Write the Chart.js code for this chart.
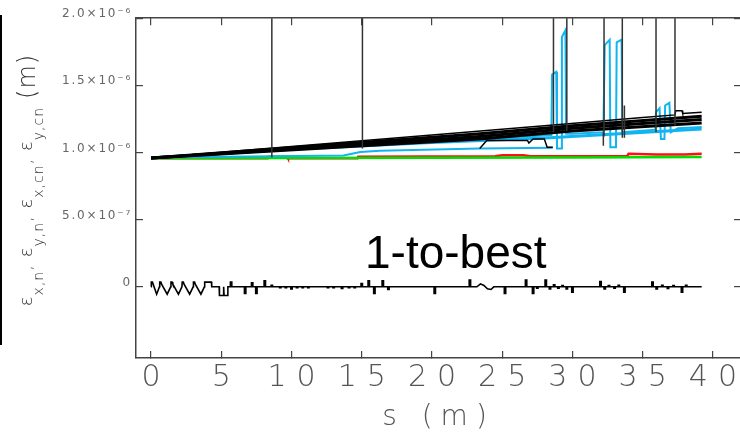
<!DOCTYPE html>
<html>
<head>
<meta charset="utf-8">
<script src="https://cdn.jsdelivr.net/npm/chart.js@4.4.1/dist/chart.umd.min.js"></script>
<style>
  html, body { margin: 0; padding: 0; background: #fff; overflow: hidden; }
  #wrap { position: relative; width: 740px; height: 432px; overflow: hidden; }
  #emitChart { position: absolute; left: 0; top: 0; }
  #edge { position: absolute; left: 0; top: 15px; width: 2px; height: 330px; background: #000; }
  #ytitle {
    position: absolute; left: 29px; top: 180px;
    transform: translate(-50%, -50%) rotate(-90deg);
    white-space: nowrap; color: #333;
    font-family: "DejaVu Sans", sans-serif; font-weight: 200; font-size: 18px;
    letter-spacing: 1px;
  }
  #ytitle sub { font-size: 14px; vertical-align: -11px; }
  #ytitle .unit { font-size: 24px; vertical-align: -3px; margin-left: 8px; }
  #tag {
    position: absolute; left: 365px; top: 229px;
    font-family: "Liberation Sans", Arial, sans-serif; font-size: 46px; line-height: 1;
    color: #000;
  }
</style>
</head>
<body>
<div id="wrap">
  <canvas id="emitChart" width="760" height="432"></canvas>
  <div id="edge"></div>
  <div id="ytitle">ε<sub>x,n</sub>, ε<sub>y,n</sub>, ε<sub>x,cn</sub>, ε<sub>y,cn</sub><span class="unit">(m)</span></div>
  <div id="tag">1-to-best</div>
</div>
<script>
// axis ticks (s in m, emittance in units of 1e-6 m)
const sTicks = [0, 5, 10, 15, 20, 25, 30, 35, 40];
const epsTicks = [0, 0.5, 1.0, 1.5, 2.0];

// eps_y,cn - flat green
const greenS   = [0, 10, 20, 30, 39.2];
const greenEps = [0.958, 0.959, 0.961, 0.963, 0.966];

// eps_x,cn - red
const redS   = [0, 8.3, 8.35, 9.7, 9.75, 14.7, 14.75, 24.5, 25.0, 26.5, 27.0, 33.9, 34.0, 36.0, 38.0, 39.2];
const redEps = [0.958, 0.958, 0.968, 0.968, 0.958, 0.958, 0.969, 0.972, 0.979, 0.979, 0.972, 0.974, 0.99, 0.986, 0.986, 0.991];

// eps_y,n - cyan, with the blow-ups after s = 28 m
const cyanS = [0, 5, 10, 15, 20, 25, 28.5,
  28.55, 28.85, 28.9, 29.2, 29.25, 29.5, 29.55,
  30, 32.2,
  32.3, 32.65, 32.7, 33.1, 33.15, 33.5, 33.55,
  35.9,
  35.95, 36.2, 36.3, 36.55, 36.6, 36.9, 37.0,
  37.5, 39.2];
const cyanEps = [0.96, 0.995, 1.03, 1.06, 1.085, 1.11, 1.13,
  1.58, 1.60, 1.03, 1.03, 1.86, 1.91, 1.14,
  1.14, 1.15,
  1.80, 1.84, 1.04, 1.04, 1.82, 1.84, 1.15,
  1.17,
  1.30, 1.33, 1.10, 1.10, 1.35, 1.37, 1.15,
  1.18, 1.19];
const cyanBandS   = [0, 10, 20, 28.4, 39.2];
const cyanBandEps = [0.96, 1.025, 1.075, 1.11, 1.175];
const cyanLowS   = [0, 13.7, 14.9, 16.3, 23.4, 28.6];
const cyanLowEps = [0.962, 0.977, 1.003, 1.013, 1.03, 1.035];

// eps_x,n - black family
const blackTopS   = [0, 10, 20, 28, 35, 37.3, 37.35, 37.8, 37.85, 39.2];
const blackTopEps = [0.96, 1.045, 1.13, 1.20, 1.26, 1.28, 1.31, 1.31, 1.29, 1.30];
const blackBandS  = [0, 23.4, 30, 39.2];
const blackAEps   = [0.96, 1.14, 1.20, 1.27];
const blackBEps   = [0.96, 1.12, 1.18, 1.245];
const blackCEps   = [0.96, 1.10, 1.16, 1.22];
const blackStepS   = [23.4, 23.9, 26.8, 26.9, 27.2, 28.0, 28.2, 28.6];
const blackStepEps = [1.03, 1.09, 1.09, 1.07, 1.10, 1.10, 1.04, 1.04];

// single-element excursions (low end, high end)
const spikeS    = [8.6, 15.05, 28.65, 29.6, 32.2, 32.25, 33.55, 33.7, 35.95, 37.3];
const spikeLow  = [0.965, 1.03, 1.15, 1.16, 1.05, 1.12, 1.11, 1.11, 1.15, 1.2];
const spikeHigh = [2.6, 2.6, 2.6, 2.6, 1.15, 2.6, 2.6, 1.35, 2.6, 2.6];

// difference trace around zero
const traceS = [0, 0.02, 0.1, 0.4, 0.6, 0.62, 0.7, 0.75, 1.15, 1.4, 1.42, 1.5, 1.55, 1.95, 2.2, 2.22, 2.3, 2.35,
  2.75, 3.0, 3.02, 3.1, 3.15, 3.55, 3.8, 3.82, 4.3, 4.32, 4.6,
  4.85, 4.87, 5.15, 5.17, 5.2, 5.45, 5.47,
  23.2, 23.45, 23.7, 23.95, 24.2, 24.4, 39.2];
const traceEps = [0, 0.035, 0.035, -0.055, 0, 0.035, 0.035, 0.02, -0.055, 0, 0.035, 0.035, 0.02, -0.055, 0, 0.035, 0.035, 0.02,
  -0.055, 0, 0.035, 0.035, 0.02, -0.055, 0, 0.035, 0.035, 0, 0,
  0, -0.065, -0.065, 0, -0.065, -0.065, 0,
  0, 0.022, 0.01, -0.015, -0.02, 0, 0];
const kickS = [5.7, 6.7, 7.2, 7.5, 8.1, 8.6, 9.2, 9.6, 10.0, 10.4, 10.8, 11.2, 12.6, 13.0, 13.6, 14.1, 14.5,
  15.0, 15.5, 15.9, 16.5, 16.9, 20.2, 22.7, 25.2, 26.7, 27.2, 27.5, 28.1, 28.4, 28.7, 29.0, 29.3, 29.6, 30.0,
  32.0, 32.3, 32.6, 33.0, 33.3, 33.7, 35.7, 36.0, 36.4, 36.8, 37.2, 37.8, 38.1];
const kickAmp = [0.035, -0.05, 0.03, -0.05, 0.045, 0.012, -0.006, -0.006, -0.015, -0.006, -0.006, -0.006, -0.006, -0.006, -0.012, -0.006, -0.006,
  0.025, 0.045, -0.05, 0.045, -0.02, -0.05, 0.05, -0.05, 0.05, -0.05, -0.01, 0.05, -0.015, 0.015, -0.01, 0.01, -0.015, -0.04,
  0.04, -0.015, 0.01, -0.01, 0.012, -0.04, 0.035, -0.015, 0.012, -0.012, 0.01, -0.04, 0.012];

const sMin = -1.07, sMax = 42.0;
const epsMin = -0.53, epsMax = 2.0;

const pts = (xs, ys) => xs.map((x, i) => ({ x, y: ys[i] }));

const spikePts = [];
spikeS.forEach((s, i) => {
  spikePts.push({ x: s, y: spikeLow[i] }, { x: s, y: spikeHigh[i] }, { x: s, y: null });
});

const kickHalf = 0.05;
const tracePts = pts(traceS, traceEps);
kickS.forEach((s, i) => {
  tracePts.push({ x: s - kickHalf, y: 0 }, { x: s - kickHalf, y: kickAmp[i] },
                { x: s + kickHalf, y: kickAmp[i] }, { x: s + kickHalf, y: 0 });
});
tracePts.sort((a, b) => a.x - b.x);

const SUP = { '-': '⁻', '0': '⁰', '1': '¹', '2': '²', '3': '³', '4': '⁴', '5': '⁵', '6': '⁶', '7': '⁷', '8': '⁸', '9': '⁹' };
function sciLabel(v) {
  if (Math.abs(v) < 1e-9) return '0';
  const m = v * 1e-6;
  const e = Math.floor(Math.log10(m) + 1e-9);
  const mant = (m / Math.pow(10, e)).toFixed(1);
  return mant + '×10' + String(e).split('').map(c => SUP[c]).join('');
}

const axisGrey = '#444';
const labelGrey = '#555';
const thinFont = 'DejaVu Sans';

function line(data, color, width) {
  return { data, borderColor: color, borderWidth: width, pointRadius: 0, fill: false, tension: 0, spanGaps: false };
}

function frameGrid() {
  return { drawOnChartArea: false, drawTicks: true, tickLength: -7, color: axisGrey, lineWidth: 1.2 };
}

// letter spacing for the wide plotter-style lettering on an axis
function spaceOut(scale, method, px) {
  const orig = scale[method].bind(scale);
  scale[method] = function (area) {
    const ctx = this.ctx;
    ctx.save();
    ctx.letterSpacing = px;
    orig(area);
    ctx.restore();
  };
}

const spacing = {
  id: 'spacing',
  afterLayout(chart) {
    const x = chart.scales.x, y = chart.scales.y;
    if (x._spaced) return;
    spaceOut(x, 'drawLabels', '10px');
    spaceOut(x, 'drawTitle', '8px');
    spaceOut(y, 'drawLabels', '1.8px');
    x._spaced = true;
  }
};

const chart = new Chart(document.getElementById('emitChart'), {
  type: 'line',
  data: {
    datasets: [
      line(tracePts, '#000', 1.6),
      line(spikePts, '#333', 1.5),
      line(pts(blackTopS, blackTopEps), '#000', 1.5),
      line(pts(blackStepS, blackStepEps), '#000', 1.5),
      line(pts(blackBandS, blackAEps), '#000', 3),
      line(pts(blackBandS, blackBEps), '#000', 3),
      line(pts(blackBandS, blackCEps), '#000', 3),
      line(pts(cyanS, cyanEps), '#10b4f0', 2),
      line(pts(cyanBandS, cyanBandEps), '#10b4f0', 3),
      line(pts(cyanLowS, cyanLowEps), '#10b4f0', 2),
      line(pts(greenS, greenEps), '#00e000', 2.5),
      line(pts(redS, redEps), '#ff1010', 2.5)
    ]
  },
  options: {
    responsive: false,
    animation: false,
    events: [],
    layout: { padding: { top: 16, right: 19, left: 0, bottom: 0 } },
    plugins: { legend: { display: false }, tooltip: { enabled: false } },
    scales: {
      x: {
        type: 'linear', position: 'bottom', min: sMin, max: sMax,
        afterBuildTicks: s => { s.ticks = sTicks.map(v => ({ value: v })); },
        afterFit: s => { s.height = 74; },
        grid: frameGrid(),
        border: { color: axisGrey, width: 1.5 },
        ticks: {
          font: { family: thinFont, size: 30, weight: '200' }, color: labelGrey,
          padding: 9, maxRotation: 0, autoSkip: false, labelOffset: 5
        },
        title: {
          display: true, text: 's (m)', color: labelGrey,
          font: { family: thinFont, size: 28, weight: '200', lineHeight: 1 },
          padding: { top: 0, bottom: 0 }
        }
      },
      x2: {
        type: 'linear', position: 'top', min: sMin, max: sMax,
        afterBuildTicks: s => { s.ticks = sTicks.map(v => ({ value: v })); },
        afterFit: s => { s.height = 0; },
        grid: frameGrid(),
        border: { color: axisGrey, width: 1.5 },
        ticks: { display: false }
      },
      y: {
        type: 'linear', position: 'left', min: epsMin, max: epsMax,
        afterBuildTicks: s => { s.ticks = epsTicks.map(v => ({ value: v })); },
        afterFit: s => { s.width = 136; },
        grid: frameGrid(),
        border: { color: axisGrey, width: 1.5 },
        ticks: {
          callback: sciLabel,
          font: { family: thinFont, size: 12, weight: 'normal' }, color: '#666',
          padding: 11, labelOffset: -4
        }
      },
      y2: {
        type: 'linear', position: 'right', min: epsMin, max: epsMax,
        afterBuildTicks: s => { s.ticks = epsTicks.map(v => ({ value: v })); },
        afterFit: s => { s.width = 0; },
        grid: frameGrid(),
        border: { color: axisGrey, width: 1.5 },
        ticks: { display: false }
      }
    }
  },
  plugins: [spacing]
});
</script>
</body>
</html>
